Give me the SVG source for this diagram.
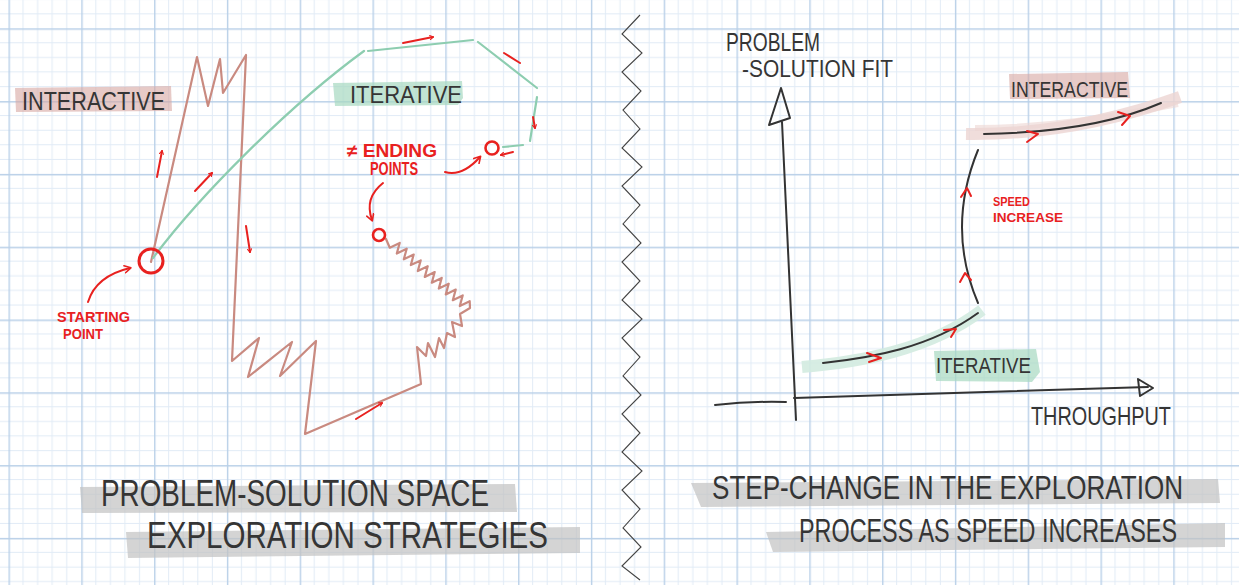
<svg xmlns="http://www.w3.org/2000/svg" width="1239" height="585" viewBox="0 0 1239 585">
<defs>
<pattern id="grid" x="8.5" y="28.3" width="72.8" height="72.8" patternUnits="userSpaceOnUse">
<path d="M14.56,0V72.8M29.12,0V72.8M43.68,0V72.8M58.24,0V72.8M0,14.56H72.8M0,29.12H72.8M0,43.68H72.8M0,58.24H72.8" stroke="#e1ebf6" stroke-width="1" fill="none"/>
<path d="M0.7,0V72.8M0,0.7H72.8" stroke="#b9d0e8" stroke-width="1.4" fill="none"/>
</pattern>
<marker id="ah" viewBox="0 0 10 10" refX="7" refY="5" markerWidth="5" markerHeight="5" orient="auto" markerUnits="userSpaceOnUse">
<path d="M1,1 L8,5 L1,9" fill="none" stroke="#e8211f" stroke-width="2.2" stroke-linecap="round" stroke-linejoin="round"/>
</marker>
<marker id="ah2" viewBox="0 0 10 10" refX="7" refY="5" markerWidth="9" markerHeight="9" orient="auto" markerUnits="userSpaceOnUse">
<path d="M1,1 L8,5 L1,9" fill="none" stroke="#e8211f" stroke-width="1.8" stroke-linecap="round" stroke-linejoin="round"/>
</marker>
<style>
.hand{font-family:"Liberation Sans","DejaVu Sans",sans-serif;fill:#353535;}
.red{font-family:"Liberation Sans","DejaVu Sans",sans-serif;fill:#e8211f;font-weight:bold;}
.brown{fill:none;stroke:#c98a80;stroke-width:2.2;stroke-linejoin:round;stroke-linecap:round;}
.green{fill:none;stroke:#8dcdb0;stroke-width:2.2;stroke-linejoin:round;stroke-linecap:round;}
.rarrow{fill:none;stroke:#e8211f;stroke-width:2;stroke-linecap:round;stroke-linejoin:round;}
.ink{fill:none;stroke:#333;stroke-width:2;stroke-linecap:round;stroke-linejoin:round;}
.pinkhl{fill:#d7a7a1;opacity:0.6;}
.greenhl{fill:#a6d8c1;opacity:0.7;}
.grayhl{fill:#c2c2c2;opacity:0.7;}
</style>
</defs>
<rect width="1239" height="585" fill="#ffffff"/>
<rect width="1239" height="585" fill="url(#grid)"/>

<!-- divider -->
<polyline id="divider" fill="none" stroke="#444" stroke-width="1.1" stroke-linejoin="miter" points="640,15 622,34 642,53 622,72 641,91 623,110 640,129 622,148 642,167 622,186 640,205 623,224 641,243 622,262 640,281 622,300 642,319 622,338 640,357 623,376 641,395 622,414 640,433 622,452 642,471 622,490 640,509 623,528 641,547 622,566 640,580"/>

<!-- highlights -->
<g id="highlights">
<polygon class="pinkhl" points="15,88 171,86 172,111 16,112"/>
<polygon class="greenhl" points="333,83 462,81 463,98 458,105 335,106"/>
<polygon class="pinkhl" points="1009,74 1128,72 1130,98 1010,99"/>
<polygon class="greenhl" points="934,351 1036,349 1040,372 1032,382 936,381"/>
<path d="M966,134 C1040,135 1110,122 1180,97" fill="none" stroke="#ecd5d2" stroke-width="12" stroke-linecap="butt" opacity="0.8"/>
<path d="M975,128 C1050,128 1115,116 1178,104" fill="none" stroke="#ecd5d2" stroke-width="6" opacity="0.6"/>
<path d="M802,367 C860,362 930,350 982,310" fill="none" stroke="#d3ebe0" stroke-width="12" stroke-linecap="butt" opacity="0.9"/>
<polygon class="grayhl" points="80,487 515,484 517,512 82,513"/>
<polygon class="grayhl" points="126,532 580,527 580,553 128,558"/>
<polygon class="grayhl" points="691,483 1218,479 1220,503 701,507"/>
<polygon class="grayhl" points="766,532 1225,523 1225,547 773,552"/>
</g>

<!-- connectors -->
<g id="connectors">
<path class="brown" d="M151,262 L197,57 L208,106 L220,59 L223,93 L246,55 L232,361 L259,338 L248,377 L292,342 L280,376 L316,341 L305,434 L421,384 L417,347 L426,356 L428,343 L435,357 L439,338 L444,348 L447,333 L455,337 L452,322 L462,326 L460,314 L470,308 L469.7,301.2 L459.8,306 L462.7,295.4 L452.8,300.2 L455.7,289.6 L445.8,294.4 L448.7,283.7 L438.8,288.5 L441.7,277.9 L431.8,282.7 L434.7,272 L424.8,276.9 L427.7,266.2 L417.8,271 L420.7,260.4 L410.8,265.1 L413.7,254.5 L403.8,259.3 L406.7,248.7 L396.8,253.5 L399.7,242.9 L389.8,247.7 L386,239"/>
<path class="green" d="M153,258 C200,195 290,105 364,51"/>
<path class="green" stroke-width="3" d="M368,51 L473,40"/>
<path class="green" stroke-width="3" d="M478,42 L537,88"/>
<path class="green" stroke-width="3" d="M537,97 L530,141"/>
<path class="green" stroke-width="3" d="M523,145 L503,147"/>
<line class="rarrow" x1="157" y1="177" x2="162" y2="151" marker-end="url(#ah)"/>
<line class="rarrow" x1="195" y1="191" x2="212" y2="173" marker-end="url(#ah)"/>
<line class="rarrow" x1="246" y1="226" x2="250" y2="252" marker-end="url(#ah)"/>
<line class="rarrow" x1="356" y1="419" x2="382" y2="403" marker-end="url(#ah)"/>
<line class="rarrow" x1="403" y1="43" x2="433" y2="37" marker-end="url(#ah)"/>
<line class="rarrow" x1="504" y1="53" x2="520" y2="63"/>
<line class="rarrow" x1="533" y1="117" x2="535" y2="128" marker-end="url(#ah)"/>
<line class="rarrow" x1="513" y1="152" x2="501" y2="155" marker-end="url(#ah)"/>
<path class="rarrow" d="M88,302 Q96,276 130,268" marker-end="url(#ah2)"/>
<path class="rarrow" d="M445,172 Q462,177 480,157" marker-end="url(#ah2)"/>
<path class="rarrow" d="M383,183 Q364,198 372,220" marker-end="url(#ah2)"/>

<path class="ink" d="M782,122 L796,420"/>
<polygon class="ink" stroke-width="2.6" points="781,88 769,125 790,118"/>
<path class="ink" stroke-width="3" d="M715,405 Q750,401 786,402"/>
<path class="ink" d="M794,398 L1148,387"/>
<polygon class="ink" points="1138,379 1153,388 1140,396"/>
<path class="ink" d="M823,363 C870,358 930,348 978,313"/>
<path class="ink" d="M978,150 Q946,228 978,303"/>
<path class="ink" d="M984,134 C1050,133 1110,125 1161,103"/>
<path class="rarrow" d="M867,353 L881,358 L869,362"/>
<path class="rarrow" d="M944,330 L956,329 L951,337"/>
<path class="rarrow" d="M961,197 L967,188 L971,196"/>
<path class="rarrow" d="M960,282 L965,273 L971,280"/>
<path class="rarrow" d="M1027,131 L1038,134 L1027,142"/>
<path class="rarrow" d="M1118,112 L1130,116 L1122,125"/>
</g>

<g id="start-point">
<circle cx="151" cy="261" r="12" fill="none" stroke="#e8211f" stroke-width="3"/>
<text class="red" x="57" y="322" font-size="15" textLength="73" lengthAdjust="spacingAndGlyphs">STARTING</text>
<text class="red" x="63" y="339" font-size="15" textLength="40" lengthAdjust="spacingAndGlyphs">POINT</text>
</g>
<g id="ending-points">
<circle cx="492" cy="148" r="6.5" fill="none" stroke="#e8211f" stroke-width="2.6"/>
<circle cx="379" cy="235" r="6" fill="none" stroke="#e8211f" stroke-width="2.6"/>
<text class="red" x="347" y="157" font-size="18" textLength="90" lengthAdjust="spacingAndGlyphs">≠ ENDING</text>
<text class="red" x="370" y="175" font-size="18" textLength="48" lengthAdjust="spacingAndGlyphs">POINTS</text>
</g>
<g id="label-interactive-left">
<text class="hand" x="22" y="110" font-size="26" textLength="143" lengthAdjust="spacingAndGlyphs">INTERACTIVE</text>
</g>
<g id="label-iterative-left">
<text class="hand" x="350" y="103" font-size="23" textLength="112" lengthAdjust="spacingAndGlyphs">ITERATIVE</text>
</g>
<g id="axis-y-label">
<text class="hand" x="726" y="51" font-size="25" textLength="94" lengthAdjust="spacingAndGlyphs">PROBLEM</text>
<text class="hand" x="742" y="77" font-size="23" textLength="151" lengthAdjust="spacingAndGlyphs">-SOLUTION FIT</text>
</g>
<g id="axis-x-label">
<text class="hand" x="1031" y="425" font-size="25" textLength="140" lengthAdjust="spacingAndGlyphs">THROUGHPUT</text>
</g>
<g id="label-interactive-right">
<text class="hand" x="1011" y="97" font-size="22" textLength="117" lengthAdjust="spacingAndGlyphs">INTERACTIVE</text>
</g>
<g id="label-iterative-right">
<text class="hand" x="936" y="373" font-size="22" textLength="95" lengthAdjust="spacingAndGlyphs">ITERATIVE</text>
</g>
<g id="label-speed">
<text class="red" x="993" y="206" font-size="12.5" textLength="37" lengthAdjust="spacingAndGlyphs">SPEED</text>
<text class="red" x="993" y="222" font-size="12.5" textLength="70" lengthAdjust="spacingAndGlyphs">INCREASE</text>
</g>
<g id="title-left">
<text class="hand" x="101" y="506" font-size="37" textLength="388" lengthAdjust="spacingAndGlyphs">PROBLEM-SOLUTION SPACE</text>
<text class="hand" x="147" y="548" font-size="36" textLength="401" lengthAdjust="spacingAndGlyphs">EXPLORATION STRATEGIES</text>
</g>
<g id="title-right">
<text class="hand" transform="translate(712,499) scale(1,1.3)" font-size="26" textLength="471" lengthAdjust="spacingAndGlyphs">STEP-CHANGE IN THE EXPLORATION</text>
<text class="hand" transform="translate(799,542) scale(1,1.3)" font-size="26" textLength="378" lengthAdjust="spacingAndGlyphs">PROCESS AS SPEED INCREASES</text>
</g>
</svg>
